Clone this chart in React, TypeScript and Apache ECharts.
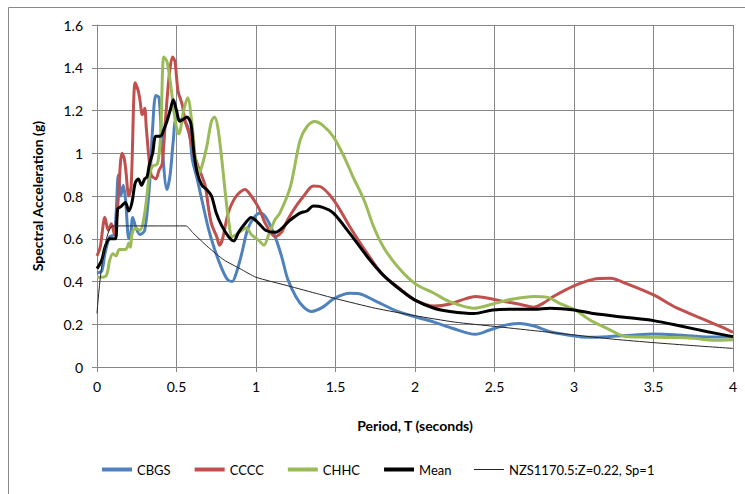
import React, { useEffect, useRef } from "react";
import * as echarts from "echarts";

// ---- Data ----
const cbgsT = [0, 0.03, 0.05, 0.08, 0.11, 0.135, 0.15, 0.165, 0.18, 0.2, 0.21, 0.225, 0.245, 0.27, 0.3, 0.33, 0.35, 0.37, 0.39, 0.41, 0.44, 0.46, 0.48, 0.5, 0.55, 0.58, 0.6, 0.63, 0.66, 0.7, 0.74, 0.785, 0.82, 0.85, 0.876, 0.91, 0.95, 1.0, 1.03, 1.07, 1.12, 1.16, 1.2, 1.25, 1.3, 1.35, 1.42, 1.49, 1.59, 1.65, 1.74, 1.89, 2.0, 2.12, 2.24, 2.38, 2.47, 2.57, 2.66, 2.75, 2.85, 2.96, 3.09, 3.21, 3.38, 3.5, 3.65, 3.8, 4.0];
const cbgsSa = [0.44, 0.45, 0.53, 0.61, 0.62, 0.9, 0.8, 0.85, 0.78, 0.6, 0.61, 0.7, 0.65, 0.62, 0.64, 0.85, 1.12, 1.27, 1.26, 1.03, 0.83, 0.9, 1.06, 1.16, 1.15, 1.1, 0.97, 0.88, 0.78, 0.65, 0.55, 0.46, 0.41, 0.4, 0.44, 0.53, 0.65, 0.71, 0.72, 0.69, 0.61, 0.52, 0.41, 0.33, 0.28, 0.26, 0.28, 0.32, 0.345, 0.343, 0.313, 0.26, 0.235, 0.21, 0.18, 0.153, 0.173, 0.196, 0.204, 0.192, 0.165, 0.15, 0.139, 0.142, 0.15, 0.154, 0.15, 0.142, 0.14];

const ccccT = [0, 0.02, 0.05, 0.07, 0.09, 0.11, 0.13, 0.157, 0.17, 0.18, 0.2, 0.215, 0.24, 0.26, 0.27, 0.285, 0.3, 0.31, 0.34, 0.37, 0.39, 0.41, 0.43, 0.455, 0.475, 0.49, 0.51, 0.535, 0.555, 0.58, 0.608, 0.64, 0.68, 0.7, 0.72, 0.753, 0.77, 0.79, 0.825, 0.876, 0.93, 0.97, 1.02, 1.06, 1.12, 1.16, 1.2, 1.25, 1.3, 1.36, 1.4, 1.49, 1.59, 1.7, 1.8, 1.91, 2.0, 2.12, 2.22, 2.32, 2.38, 2.49, 2.57, 2.65, 2.75, 2.81, 2.87, 3.0, 3.12, 3.23, 3.33, 3.5, 3.65, 3.8, 3.92, 4.0];
const ccccSa = [0.52, 0.56, 0.7, 0.64, 0.67, 0.62, 0.75, 1.0, 0.98, 0.93, 0.8, 0.85, 1.33, 1.29, 1.25, 1.18, 1.21, 1.12, 0.9, 0.88, 0.92, 0.95, 1.15, 1.37, 1.45, 1.43, 1.29, 1.23, 1.15, 1.09, 1.0, 0.93, 0.85, 0.75, 0.67, 0.61, 0.57, 0.6, 0.72, 0.8, 0.83, 0.8, 0.74, 0.67, 0.61, 0.63, 0.69, 0.75, 0.8, 0.847, 0.845, 0.78, 0.656, 0.53, 0.43, 0.363, 0.313, 0.285, 0.295, 0.32, 0.33, 0.317, 0.305, 0.295, 0.28, 0.3, 0.33, 0.38, 0.41, 0.415, 0.39, 0.337, 0.275, 0.228, 0.19, 0.162];

const chhcT = [0, 0.03, 0.06, 0.08, 0.1, 0.12, 0.14, 0.18, 0.19, 0.2, 0.21, 0.22, 0.24, 0.27, 0.3, 0.33, 0.35, 0.38, 0.4, 0.42, 0.44, 0.465, 0.485, 0.5, 0.515, 0.545, 0.57, 0.6, 0.62, 0.645, 0.66, 0.69, 0.72, 0.74, 0.76, 0.785, 0.806, 0.827, 0.85, 0.876, 0.94, 0.97, 1.02, 1.05, 1.08, 1.12, 1.15, 1.215, 1.277, 1.32, 1.37, 1.42, 1.487, 1.55, 1.61, 1.68, 1.74, 1.8, 1.89, 2.0, 2.12, 2.22, 2.37, 2.49, 2.61, 2.75, 2.83, 2.91, 3.0, 3.1, 3.21, 3.31, 3.42, 3.58, 3.75, 3.88, 4.0];
const chhcSa = [0.42, 0.42, 0.43, 0.5, 0.53, 0.52, 0.55, 0.55, 0.56, 0.58, 0.56, 0.62, 0.65, 0.64, 0.72, 0.9, 0.94, 0.95, 1.08, 1.45, 1.43, 1.31, 1.19, 1.12, 1.09, 1.2, 1.26, 1.12, 0.97, 0.91, 0.94, 1.03, 1.15, 1.17, 1.12, 0.97, 0.82, 0.69, 0.61, 0.62, 0.65, 0.62, 0.59, 0.57, 0.62, 0.69, 0.72, 0.84, 1.06, 1.124, 1.148, 1.13, 1.077, 0.99, 0.89, 0.78, 0.656, 0.563, 0.47, 0.39, 0.345, 0.305, 0.275, 0.295, 0.317, 0.33, 0.327, 0.298, 0.27, 0.22, 0.18, 0.145, 0.14, 0.138, 0.135, 0.125, 0.128];

const meanT = [0, 0.03, 0.05, 0.08, 0.115, 0.13, 0.15, 0.178, 0.2, 0.22, 0.24, 0.26, 0.28, 0.3, 0.315, 0.33, 0.35, 0.37, 0.4, 0.42, 0.44, 0.46, 0.48, 0.5, 0.52, 0.545, 0.565, 0.59, 0.61, 0.63, 0.66, 0.69, 0.72, 0.75, 0.785, 0.827, 0.86, 0.89, 0.93, 0.97, 1.02, 1.06, 1.12, 1.215, 1.277, 1.32, 1.36, 1.42, 1.487, 1.59, 1.7, 1.8, 1.91, 2.0, 2.12, 2.22, 2.37, 2.49, 2.6, 2.75, 2.85, 3.0, 3.12, 3.33, 3.5, 3.67, 3.84, 4.0];
const meanSa = [0.46, 0.5, 0.56, 0.6, 0.6, 0.74, 0.75, 0.77, 0.73, 0.77, 0.86, 0.88, 0.85, 0.88, 0.89, 0.95, 1.0, 1.08, 1.08, 1.11, 1.15, 1.2, 1.25, 1.2, 1.15, 1.16, 1.17, 1.14, 1.0, 0.91, 0.85, 0.83, 0.8, 0.72, 0.66, 0.61, 0.59, 0.63, 0.67, 0.7, 0.67, 0.64, 0.63, 0.688, 0.72, 0.73, 0.753, 0.747, 0.72, 0.625, 0.516, 0.43, 0.36, 0.313, 0.275, 0.26, 0.25, 0.267, 0.27, 0.27, 0.275, 0.267, 0.25, 0.232, 0.217, 0.192, 0.165, 0.142];

const nzsT = [0, 0.1, 0.56, 0.6, 0.7, 0.8, 0.9, 1.0, 1.2, 1.4, 1.5, 1.75, 2.0, 2.25, 2.5, 2.75, 3.0, 3.25, 3.5, 3.75, 4.0];
const nzsSa = [0.25, 0.66, 0.66, 0.63, 0.56, 0.5, 0.46, 0.42, 0.38, 0.34, 0.32, 0.275, 0.24, 0.21, 0.19, 0.17, 0.15, 0.13, 0.114, 0.1, 0.087];

const seriesNames = ["CBGS", "CCCC", "CHHC", "Mean", "NZS1170.5:Z=0.22, Sp=1"];
const seriesColors = ["#4F81BD", "#C0504D", "#9BBB59", "#000000", "#262626"];
const seriesWidths = [3, 3, 3, 3, 1];
const xTicks = [0, 0.5, 1, 1.5, 2, 2.5, 3, 3.5, 4];
const yTicks = [0, 0.2, 0.4, 0.6, 0.8, 1, 1.2, 1.4, 1.6];

const pairs = (t: number[], v: number[]) => t.map((x, i) => [x, v[i]]);

const FONT = "'Liberation Sans Narrow', Lato, sans-serif";

export default function App() {
  const ref = useRef<HTMLDivElement>(null);
  useEffect(() => {
    if (!ref.current) return;
    const chart = echarts.init(ref.current, undefined, { renderer: "svg" });
    const gridColor = "#878787";
    const mk = (i: number, data: number[][], smooth: number | boolean) => ({
      name: seriesNames[i],
      type: "line",
      data,
      symbol: "none",
      smooth,
      lineStyle: { color: seriesColors[i], width: seriesWidths[i] },
      itemStyle: { color: seriesColors[i] },
      z: 2,
    });
    chart.setOption({
      animation: false,
      backgroundColor: "#ffffff",
      textStyle: { fontFamily: FONT },
      graphic: [
        {
          type: "rect",
          shape: { x: 8.5, y: 7.5, width: 800, height: 600 },
          style: { fill: "none", stroke: "#898989", lineWidth: 1 },
          silent: true,
        },
      ],
      grid: { left: 97, right: 12, top: 25, bottom: 127, containLabel: false },
      xAxis: {
        type: "value",
        min: xTicks[0],
        max: xTicks[xTicks.length - 1],
        interval: 0.5,
        name: "Period, T (seconds)",
        nameLocation: "middle",
        nameGap: 51,
        nameTextStyle: { fontFamily: FONT, fontWeight: "bold", fontSize: 14, color: "#000" },
        axisLine: { show: true, lineStyle: { color: gridColor, width: 1 } },
        axisTick: { show: true, length: 5, lineStyle: { color: gridColor } },
        axisLabel: { fontFamily: FONT, fontSize: 14, color: "#000", margin: 12 },
        splitLine: { show: true, lineStyle: { color: gridColor, width: 1 } },
      },
      yAxis: {
        type: "value",
        min: yTicks[0],
        max: yTicks[yTicks.length - 1],
        interval: 0.2,
        name: "Spectral Acceleration (g)",
        nameLocation: "middle",
        nameGap: 53,
        nameTextStyle: { fontFamily: FONT, fontWeight: "bold", fontSize: 14, color: "#000" },
        axisLine: { show: true, lineStyle: { color: gridColor, width: 1 } },
        axisTick: { show: true, length: 5, lineStyle: { color: gridColor } },
        axisLabel: {
          fontFamily: FONT,
          fontSize: 14,
          color: "#000",
          margin: 14,
          formatter: (v: number) => String(Math.round(v * 10) / 10),
        },
        splitLine: { show: true, lineStyle: { color: gridColor, width: 1 } },
      },
      legend: {
        data: seriesNames.map((n, i) => ({
          name: n,
          lineStyle: { color: seriesColors[i], width: i < 4 ? 4 : 1 },
        })),
        left: 95,
        top: 458,
        itemWidth: 30,
        itemHeight: 14,
        itemGap: 22,
        itemStyle: { opacity: 0, borderWidth: 0 },
        textStyle: { fontFamily: FONT, fontSize: 13, color: "#000" },
      },
      series: [
        mk(0, pairs(cbgsT, cbgsSa), 0.3),
        mk(1, pairs(ccccT, ccccSa), 0.3),
        mk(2, pairs(chhcT, chhcSa), 0.3),
        mk(3, pairs(meanT, meanSa), 0.3),
        mk(4, pairs(nzsT, nzsSa), 0.2),
      ],
    });
    return () => chart.dispose();
  }, []);
  return (
    <div
      ref={ref}
      style={{ position: "fixed", left: 0, top: 0, width: 745, height: 494, background: "#fff" }}
    />
  );
}
